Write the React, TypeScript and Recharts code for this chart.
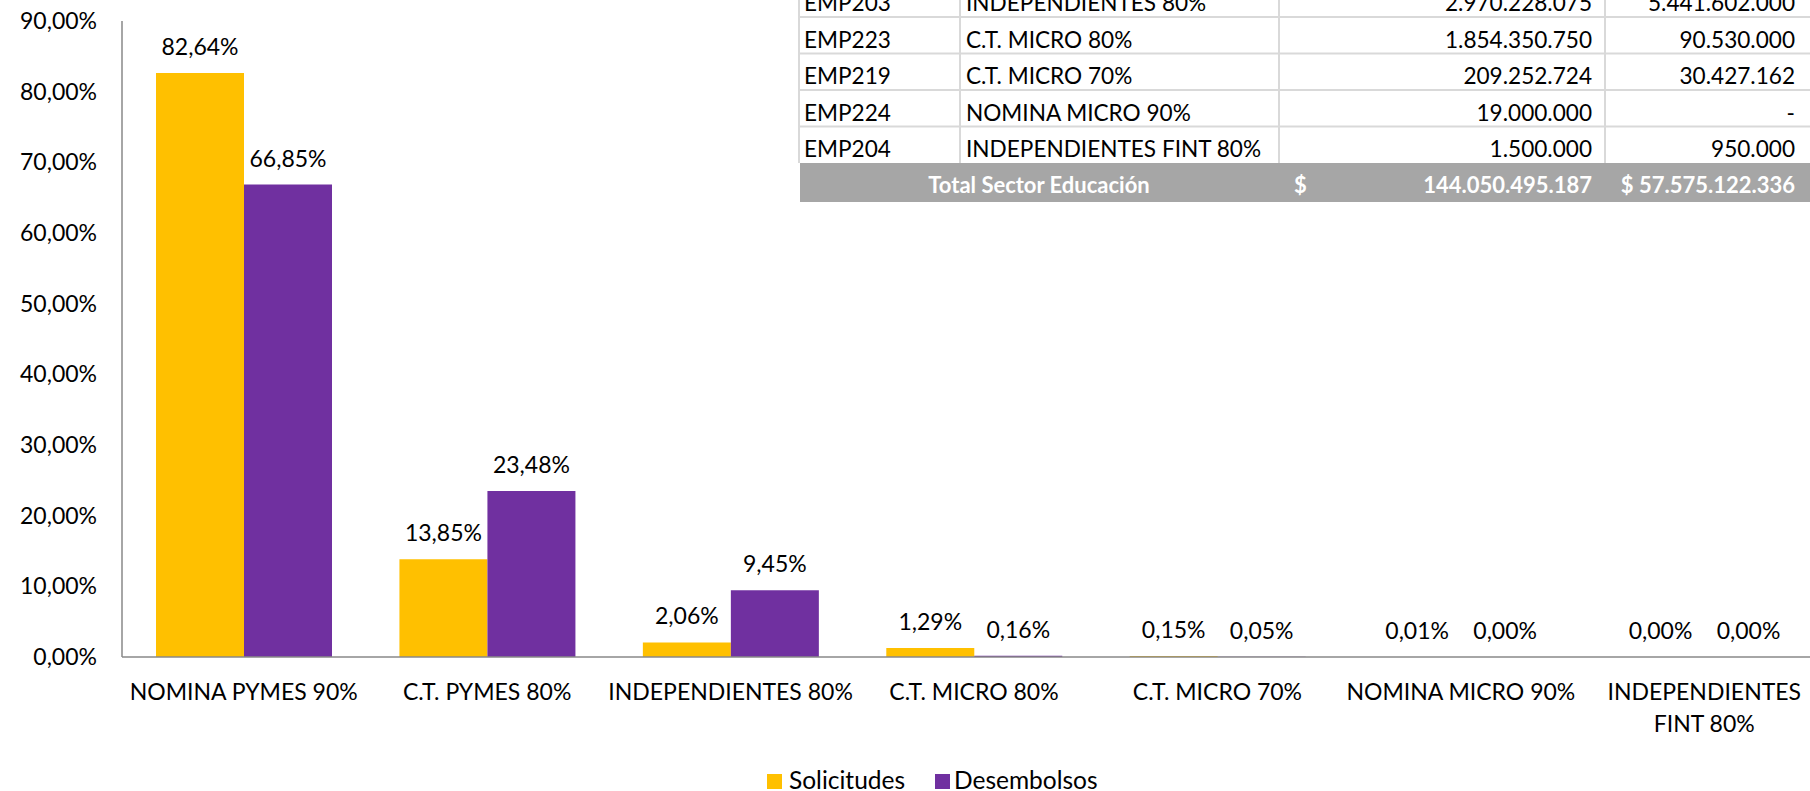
import React from 'react';
import { BarChart, Bar, XAxis, YAxis, Legend, LabelList } from 'recharts';

// ---- chart data ----
const categories = [
  'NOMINA PYMES 90%',
  'C.T. PYMES 80%',
  'INDEPENDIENTES 80%',
  'C.T. MICRO 80%',
  'C.T. MICRO 70%',
  'NOMINA MICRO 90%',
  'INDEPENDIENTES FINT 80%',
];
const tickLines = [
  ['NOMINA PYMES 90%'],
  ['C.T. PYMES 80%'],
  ['INDEPENDIENTES 80%'],
  ['C.T. MICRO 80%'],
  ['C.T. MICRO 70%'],
  ['NOMINA MICRO 90%'],
  ['INDEPENDIENTES', 'FINT 80%'],
];
const solicitudes = [0.8264, 0.1385, 0.0206, 0.0129, 0.0015, 0.0001, 0.00001];
const desembolsos = [0.6685, 0.2348, 0.0945, 0.0016, 0.0005, 0.0, 0.000017];
const seriesNames = ['Solicitudes', 'Desembolsos'];
const seriesColors = ['#FFC000', '#7030A0'];
const yTicks = [0, 0.1, 0.2, 0.3, 0.4, 0.5, 0.6, 0.7, 0.8, 0.9];

// ---- table data ----
const tableCodes = ['EMP203', 'EMP223', 'EMP219', 'EMP224', 'EMP204'];
const tableLineNames = ['INDEPENDIENTES 80%', 'C.T. MICRO 80%', 'C.T. MICRO 70%', 'NOMINA MICRO 90%', 'INDEPENDIENTES FINT 80%'];
const tableSolicitudes = ['2.970.228.075', '1.854.350.750', '209.252.724', '19.000.000', '1.500.000'];
const tableDesembolsos = ['5.441.602.000', '90.530.000', '30.427.162', '-', '950.000'];
const totalLabel = 'Total Sector Educación';
const totalCurrency = '$';
const totalSolicitudes = '144.050.495.187';
const totalDesembolsos = '$ 57.575.122.336';

const FONT = 'Lato, "Open Sans", sans-serif';

const data = categories.map((name, i) => ({ name, sol: solicitudes[i], des: desembolsos[i] }));

const fmt = (v: any) => (Number(v) * 100).toFixed(2).replace('.', ',') + '%';

const CustomTick = (props: any) => {
  const { x, y, payload } = props;
  const idx = categories.indexOf(payload.value);
  const lines = idx >= 0 ? tickLines[idx] : [String(payload.value)];
  return (
    <text x={x} y={y} textAnchor="middle" fontFamily={FONT} fontSize={23} fill="#000">
      {lines.map((l, i) => (
        <tspan key={i} x={x} y={y + 43 + i * 32}>{l}</tspan>
      ))}
    </text>
  );
};

const renderValueLabel = (props: any) => {
  const vb = props.viewBox || props;
  const x = Number(vb.x ?? props.x);
  const y = Number(vb.y ?? props.y);
  const w = Number(vb.width ?? props.width);
  const h = Number(vb.height ?? props.height) || 0;
  const top = Math.min(y, y + h);
  return (
    <text x={x + w / 2} y={top - 18} textAnchor="middle" fontFamily={FONT} fontSize={23} fill="#000">
      {fmt(props.value)}
    </text>
  );
};

const renderLegend = () => (
  <svg width={1810} height={26} style={{ display: 'block' }}>
    <rect x={767} y={9} width={15} height={15} fill={seriesColors[0]} />
    <text x={789} y={24} fontFamily={FONT} fontSize={24.5} fill="#000">{seriesNames[0]}</text>
    <rect x={935} y={9} width={15} height={15} fill={seriesColors[1]} />
    <text x={954} y={24} fontFamily={FONT} fontSize={24.5} fill="#000">{seriesNames[1]}</text>
  </svg>
);

const TableOverlay = () => {
  const left = 799;
  const right = 1810;
  const colX = [799, 960, 1279, 1605];
  const rowBottoms = tableCodes.map((_, i) => 17 + 36.5 * i);
  const bodyBottom = 163;
  const grid = '#D9D9D9';
  return (
    <svg width={1810} height={210} style={{ position: 'absolute', left: 0, top: 0 }}>
      <rect x={left} y={0} width={right - left} height={bodyBottom} fill="#fff" />
      {rowBottoms.slice(0, -1).map((yb, i) => (
        <line key={'h' + i} x1={left} x2={right} y1={yb} y2={yb} stroke={grid} strokeWidth={2} />
      ))}
      {colX.map((cx, i) => (
        <line key={'v' + i} x1={cx} x2={cx} y1={0} y2={bodyBottom} stroke={grid} strokeWidth={2} />
      ))}
      {tableCodes.map((code, i) => {
        const base = rowBottoms[i] - 6;
        return (
          <g key={'r' + i} fontFamily={FONT} fontSize={22.6} fill="#000">
            <text x={804} y={base}>{code}</text>
            <text x={966} y={base}>{tableLineNames[i]}</text>
            <text x={1592} y={base} textAnchor="end">{tableSolicitudes[i]}</text>
            <text x={1795} y={base} textAnchor="end">{tableDesembolsos[i]}</text>
          </g>
        );
      })}
      <rect x={800} y={bodyBottom} width={right - 800} height={39} fill="#A6A6A6" />
      <g fontFamily={FONT} fontSize={22} fontWeight={700} fill="#fff">
        <text x={1039} y={193} textAnchor="middle">{totalLabel}</text>
        <text x={1294} y={193}>{totalCurrency}</text>
        <text x={1592} y={193} textAnchor="end">{totalSolicitudes}</text>
        <text x={1795} y={193} textAnchor="end">{totalDesembolsos}</text>
      </g>
    </svg>
  );
};

const minSize = (v: any) => (Number(v) === 0 ? 0.01 : 0);

export default function App() {
  return (
    <div style={{ position: 'fixed', left: 0, top: 0, width: 1810, height: 791, overflow: 'hidden', background: '#fff' }}>
      <BarChart
        width={1826}
        height={791}
        data={data}
        margin={{ top: 21, right: 0, bottom: 0, left: 0 }}
        barCategoryGap={34}
        barGap={0}
      >
        <XAxis
          dataKey="name"
          height={134}
          interval={0}
          axisLine={{ stroke: '#898989', strokeWidth: 1.5 }}
          tickLine={false}
          tickSize={0}
          tickMargin={0}
          tick={<CustomTick />}
        />
        <YAxis
          width={122}
          domain={[0, 0.9]}
          ticks={yTicks}
          tickFormatter={fmt}
          axisLine={{ stroke: '#898989', strokeWidth: 1.5 }}
          tickLine={false}
          tickSize={0}
          tickMargin={25}
          tick={{ fontSize: 23, fill: '#000', fontFamily: FONT }}
          allowDataOverflow
        />
        <Legend
          layout="horizontal"
          verticalAlign="middle"
          align="center"
          wrapperStyle={{ top: 765, left: 0, width: 1810, height: 26 }}
          content={renderLegend}
        />
        <Bar dataKey="sol" name={seriesNames[0]} fill={seriesColors[0]} isAnimationActive={false} minPointSize={minSize}>
          <LabelList dataKey="sol" position="top" content={renderValueLabel} />
        </Bar>
        <Bar dataKey="des" name={seriesNames[1]} fill={seriesColors[1]} isAnimationActive={false} minPointSize={minSize}>
          <LabelList dataKey="des" position="top" content={renderValueLabel} />
        </Bar>
      </BarChart>
      <TableOverlay />
    </div>
  );
}
